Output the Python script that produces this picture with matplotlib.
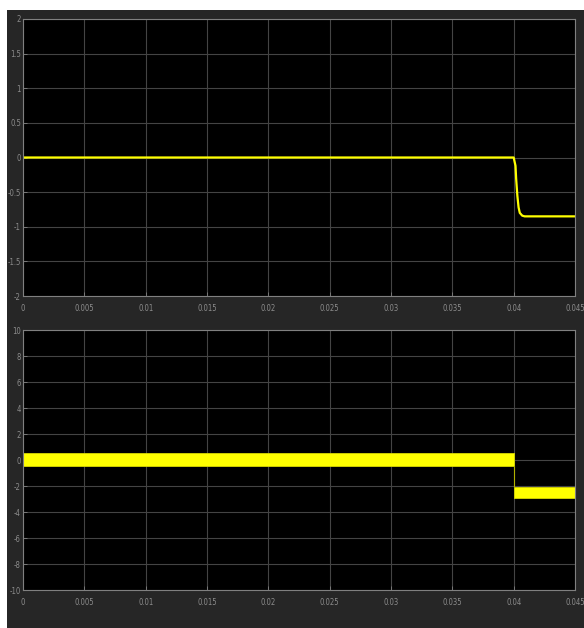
import matplotlib
matplotlib.use("Agg")
import matplotlib.pyplot as plt
from matplotlib.patches import Rectangle

# Upper trace: step response settling to a negative level after t = 0.04 s
t_top = [0.0, 0.0400, 0.04015, 0.0402, 0.0403, 0.0404, 0.0405, 0.0407, 0.0409, 0.045]
y_top = [0.0, 0.0, -0.12, -0.30, -0.55, -0.72, -0.80, -0.84, -0.85, -0.85]

# Lower trace: fast oscillation drawn as its envelope (upper / lower bounds)
t_env = [0.0, 0.0400, 0.0400, 0.045]
env_hi = [0.52, 0.52, -2.1, -2.1]
env_lo = [-0.48, -0.48, -2.9, -2.9]

x_ticks = [0, 0.005, 0.01, 0.015, 0.02, 0.025, 0.03, 0.035, 0.04, 0.045]
x_labels = ["0", "0.005", "0.01", "0.015", "0.02", "0.025", "0.03", "0.035", "0.04", "0.045"]
y_ticks_top = [-2, -1.5, -1, -0.5, 0, 0.5, 1, 1.5, 2]
y_ticks_bot = [-10, -8, -6, -4, -2, 0, 2, 4, 6, 8, 10]

W, H = 584, 628
fig = plt.figure(figsize=(W / 100, H / 100), dpi=100, facecolor="white")
fig.patches.append(Rectangle((7 / W, 0), 1 - 7 / W, 1 - 10 / H,
                             transform=fig.transFigure, facecolor="#262626",
                             edgecolor="none", zorder=-10))

font = dict(family=["DejaVu Sans"], stretch="condensed", size=5.5, color="#8c8c8c")
LINE = "#ffff00"


def style(ax, yticks, ylim):
    ax.set_facecolor("black")
    ax.set_axisbelow(True)
    ax.set_xlim(0, 0.045)
    ax.set_ylim(*ylim)
    ax.set_xticks(x_ticks)
    ax.set_xticklabels(x_labels, **font)
    ax.set_yticks(yticks)
    ax.set_yticklabels([("%g" % v) for v in yticks], **font)
    ax.grid(True, color="#444444", linewidth=0.8)
    for s in ax.spines.values():
        s.set_color("#808080")
        s.set_linewidth(0.8)
        s.set_zorder(3)
    ax.tick_params(axis="both", direction="in", length=3, width=0.6,
                   color="#808080", pad=1.5)
    ax.tick_params(axis="x", pad=6)


ax1 = fig.add_axes([23 / W, 1 - 296 / H, (575 - 23) / W, (296 - 19) / H])
style(ax1, y_ticks_top, (-2, 2))
ax1.plot(t_top, y_top, color=LINE, linewidth=1.6, solid_joinstyle="round")

ax2 = fig.add_axes([23 / W, 1 - 590 / H, (575 - 23) / W, (590 - 330) / H])
style(ax2, y_ticks_bot, (-10, 10))
ax2.fill_between(t_env, env_lo, env_hi, color=LINE, linewidth=0.6, edgecolor="#d8d800")
ax2.plot([0.04, 0.04], [-0.48, -2.1], color="#b0b000", linewidth=0.8)

fig.savefig("out.png", dpi=100, facecolor=fig.get_facecolor())
